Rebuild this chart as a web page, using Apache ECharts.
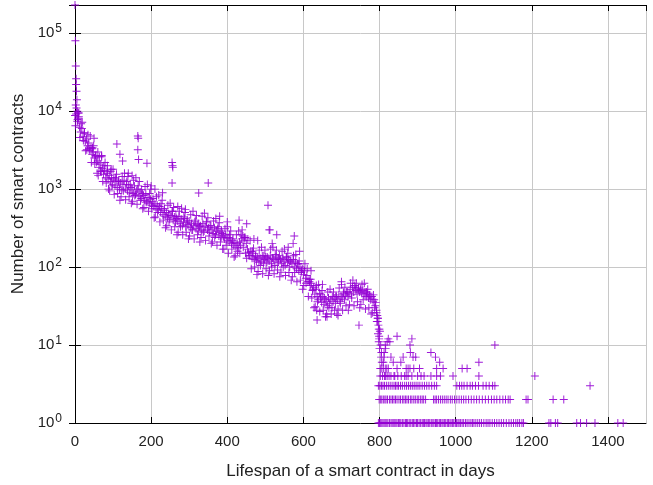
<!DOCTYPE html>
<html>
<head>
<meta charset="utf-8">
<title>Smart contract lifespan</title>
<script src="https://cdn.jsdelivr.net/npm/echarts@6/dist/echarts.min.js"></script>
<style>
  html, body { margin: 0; padding: 0; background: #fff; }
  #chart { width: 653px; height: 485px; }
</style>
</head>
<body>
<div id="chart"></div>
<script>
// main band, one value every 3 days from day 0 to day 798
var bandStep = 3
var bandCounts = [
  8800, 9200, 7400, 8100, 6200, 5400, 6000, 4700, 5200, 4100,
  4400, 3600, 3900, 3100, 3400, 2800, 3000, 2500, 2700, 2200,
  2300, 1900, 2100, 1700, 1850, 1550, 1750, 1400, 1600, 1350,
  1500, 1250, 1400, 1150, 1350, 1100, 1300, 1050, 1250, 1000,
  1200, 980, 1150, 1300, 1000, 1150, 950, 1100, 900, 1050,
  1000, 880, 1100, 850, 950, 1000, 800, 920, 760, 880,
  830, 720, 860, 700, 780, 650, 740, 620, 690, 600,
  650, 560, 620, 540, 600, 500, 560, 470, 530, 450,
  500, 430, 480, 410, 460, 520, 400, 440, 380, 420,
  390, 450, 360, 410, 340, 380, 420, 330, 370, 350,
  390, 320, 360, 300, 340, 380, 310, 350, 290, 330,
  340, 300, 360, 290, 330, 380, 300, 320, 280, 340,
  300, 270, 320, 260, 290, 310, 250, 280, 240, 270,
  250, 230, 260, 220, 240, 210, 230, 200, 220, 190,
  205, 180, 200, 175, 210, 190, 230, 250, 220, 240,
  200, 170, 155, 140, 160, 130, 150, 125, 140, 120,
  135, 115, 130, 120, 140, 110, 125, 135, 115, 130,
  120, 140, 110, 130, 125, 105, 135, 120, 115, 140,
  125, 110, 130, 120, 105, 135, 115, 125, 100, 120,
  110, 125, 100, 115, 95, 110, 90, 100, 85, 95,
  80, 90, 72, 78, 65, 70, 58, 62, 50, 55,
  45, 52, 42, 38, 46, 40, 35, 42, 33, 38,
  36, 32, 40, 34, 38, 30, 36, 40, 34, 42,
  38, 44, 36, 42, 40, 46, 38, 44, 48, 42,
  46, 52, 44, 55, 48, 58, 50, 45, 54, 48,
  52, 46, 50, 44, 48, 42, 46, 40, 44, 38,
  42, 36, 38, 32, 28, 22, 16
]
// second pass over the band, days 1, 4, 7 ... 799 (wider spread)
var bandCountsB = [
  6500, 11000, 7800, 9500, 4600, 6900, 7200, 4200, 5300, 3100,
  3200, 5000, 3300, 4800, 2200, 3400, 3600, 2100, 2600, 1600,
  1500, 2600, 1700, 2700, 1250, 2000, 2200, 1200, 1700, 1000,
  950, 1700, 1100, 1800, 850, 1400, 1550, 880, 1250, 720,
  800, 1450, 950, 1600, 730, 1250, 1450, 800, 1150, 660,
  700, 1300, 830, 1400, 640, 1100, 1250, 720, 980, 560,
  580, 1080, 680, 1150, 520, 880, 1000, 560, 760, 430,
  440, 800, 500, 840, 380, 650, 720, 400, 560, 320,
  340, 620, 380, 660, 300, 520, 580, 330, 450, 260,
  280, 520, 330, 570, 260, 440, 500, 280, 400, 230,
  250, 470, 300, 520, 230, 400, 460, 260, 360, 210,
  240, 450, 280, 490, 220, 380, 430, 250, 340, 200,
  210, 390, 240, 420, 190, 330, 370, 210, 290, 170,
  170, 310, 190, 330, 150, 260, 290, 170, 230, 135,
  140, 260, 160, 290, 150, 260, 300, 180, 240, 150,
  130, 230, 140, 220, 95, 160, 175, 100, 135, 80,
  88, 165, 105, 180, 82, 140, 165, 95, 135, 78,
  90, 170, 100, 180, 82, 145, 165, 92, 130, 75,
  86, 160, 100, 170, 78, 135, 150, 85, 120, 68,
  75, 140, 85, 145, 65, 110, 120, 68, 90, 52,
  58, 110, 62, 95, 42, 65, 70, 40, 52, 30,
  31, 58, 36, 60, 27, 45, 50, 28, 40, 23,
  25, 48, 30, 52, 25, 42, 48, 28, 42, 25,
  29, 54, 34, 60, 28, 48, 55, 32, 48, 28,
  33, 62, 40, 68, 32, 55, 62, 36, 52, 30,
  33, 60, 38, 62, 29, 48, 52, 30, 42, 25,
  26, 44, 30, 35, 20, 14, 12
]

// scattered points off the band
var extraDays = [
  0, 1, 2, 3, 3, 4, 5, 2, 6, 8, 10,
  50, 45, 60, 70, 85, 95, 110, 118, 125, 140, 150, 165, 166, 165, 167, 189,
  200, 210, 230, 255, 256, 257, 255, 270, 290, 325, 350, 380, 400,
  431, 451, 470, 480, 507, 510, 512, 530, 518, 560, 573, 576, 590,
  620, 635, 636, 650, 662, 691, 700, 746,
  792, 794, 795, 796, 797, 800, 801, 799, 798, 800, 803, 805, 804, 806, 810,
  812, 816, 820, 823, 827, 812, 815, 830, 836, 846, 856, 862, 880, 881, 885,
  888, 895, 935, 947, 958, 1061, 1103
]
var extraCounts = [
  230000, 80000, 38000, 26000, 22000, 18000, 14000, 12000, 10000, 9500, 8500,
  4500, 3300, 3000, 2600, 2000, 1800, 3800, 2800, 2300, 1600, 1500, 4800, 4500, 3200, 2400, 2150,
  1100, 1000, 900, 2200, 2000, 1900, 1200, 600, 550, 890, 1200, 450, 380,
  400, 360, 230, 220, 620, 300, 300, 260, 200, 180, 200, 250, 160,
  90, 28, 21, 60, 23, 24, 65, 18,
  26, 24, 20, 22, 18, 16, 15, 13, 11, 9, 10, 8, 7, 6, 6,
  7, 9, 11, 12, 11, 8, 10, 7, 6, 13, 6, 7, 10, 8, 12,
  7, 7, 8, 7, 6, 6, 10
]

// tail after day 800: days with exactly 1..5 contracts
var tail1Days = [
  797, 800, 803, 806, 809, 812, 815, 819, 822, 826, 830, 833, 836, 840, 843, 846,
  850, 853, 856, 860, 864, 868, 871, 874, 878, 882, 886, 889, 893, 897, 900, 904,
  908, 912, 915, 918, 922, 925, 929, 932, 936, 940, 943, 947, 950, 953, 957, 960,
  964, 967, 971, 974, 978, 981, 985, 988, 992, 995, 999, 1002, 1006, 1009, 1013,
  1017, 1021, 1026, 1030, 1035, 1040, 1044, 1048, 1053, 1058, 1063, 1068, 1074,
  1080, 1085, 1090, 1096, 1102, 1108, 1114, 1120, 1126, 1133, 1140, 1146, 1152,
  1158, 1163, 1168, 1174, 1178, 1245, 1250, 1262, 1268, 1318, 1328, 1344, 1366,
  1426, 1440
]
var tail2Days = [
  799, 803, 806, 810, 814, 817, 821, 826, 830, 834, 838, 842, 846, 851, 855, 860,
  864, 868, 872, 876, 881, 885, 890, 894, 899, 903, 908, 912, 916, 921, 942, 946,
  950, 955, 960, 965, 970, 975, 980, 986, 991, 997, 1003, 1009, 1015, 1021, 1027,
  1034, 1041, 1048, 1055, 1062, 1070, 1078, 1086, 1094, 1101, 1108, 1116, 1124,
  1131, 1138, 1143, 1185, 1190, 1256, 1284
]
var tail3Days = [
  797, 801, 805, 809, 813, 818, 823, 828, 833, 838, 842, 846, 850, 855, 860, 866,
  871, 876, 881, 886, 891, 896, 901, 906, 912, 918, 924, 930, 937, 944, 950, 1003,
  1010, 1016, 1022, 1030, 1038, 1044, 1052, 1060, 1072, 1080, 1088, 1097, 1103, 1353
]
var tail4Days = [
  802, 808, 813, 816, 820, 825, 830, 838, 840, 848, 857, 866, 870, 875, 885, 900,
  909, 917, 935, 950, 960, 993, 1061, 1208
]
var tail5Days = [
  802, 806, 810, 815, 819, 823, 846, 870, 875, 880, 890, 905, 950, 967, 1017, 1030
]

var xTicks = [0, 200, 400, 600, 800, 1000, 1200, 1400]

var points = []
bandCounts.forEach(function (c, i) { points.push([i * bandStep, c]) })
bandCountsB.forEach(function (c, i) { points.push([i * bandStep + 1, c]) })
extraDays.forEach(function (d, i) { points.push([d, extraCounts[i]]) })
var tails = [tail1Days, tail2Days, tail3Days, tail4Days, tail5Days]
tails.forEach(function (days, k) {
  days.forEach(function (d) { points.push([d, k + 1]) })
})

var purple = '#9400d3'
var cross = 'path://M0,4.4L10,4.4L10,5.6L0,5.6Z M4.4,0L5.6,0L5.6,10L4.4,10Z'

var chart = echarts.init(document.getElementById('chart'), null, { renderer: 'canvas' })

var gridLine = { show: true, lineStyle: { color: '#c8c8c8', width: 1 } }
var blackLine = { show: true, lineStyle: { color: '#000', width: 1 } }
var innerTick = { show: true, inside: true, length: 6, lineStyle: { color: '#000' } }

chart.setOption({
  animation: false,
  backgroundColor: '#fff',
  grid: { left: 75, right: 7, top: 5, bottom: 62, containLabel: false },
  xAxis: [{
    type: 'value',
    min: 0,
    max: 1500,
    interval: 200,
    name: 'Lifespan of a smart contract in days',
    nameLocation: 'middle',
    nameGap: 40,
    nameTextStyle: { fontFamily: 'Liberation Sans', fontSize: 17, color: '#222' },
    axisLine: blackLine,
    axisTick: innerTick,
    axisLabel: {
      fontFamily: 'Liberation Sans', fontSize: 15, color: '#222', margin: 11,
      showMaxLabel: false,
      formatter: function (v) { return xTicks.indexOf(v) >= 0 ? String(v) : '' }
    },
    splitLine: gridLine
  }, {
    type: 'value',
    position: 'top',
    min: 0,
    max: 1500,
    interval: 200,
    axisLine: blackLine,
    axisTick: innerTick,
    axisLabel: { show: false },
    splitLine: { show: false }
  }],
  yAxis: [{
    type: 'log',
    logBase: 10,
    min: 1,
    max: 230000,
    name: 'Number of smart contracts',
    nameLocation: 'middle',
    nameGap: 40,
    nameTextStyle: {
      fontFamily: 'Liberation Sans', fontSize: 17, color: '#222',
      padding: [0, 0, 0, 40]
    },
    axisLine: blackLine,
    axisTick: innerTick,
    axisLabel: {
      margin: 13,
      showMaxLabel: false,
      formatter: function (v) {
        var e = Math.round(Math.log10(v))
        return '{b|10}{e|' + e + '}'
      },
      rich: {
        b: { fontFamily: 'Liberation Sans', fontSize: 15, color: '#222' },
        e: { fontFamily: 'Liberation Sans', fontSize: 12, color: '#222', padding: [0, 0, 9, 1] }
      }
    },
    splitLine: gridLine
  }, {
    type: 'log',
    logBase: 10,
    min: 1,
    max: 230000,
    position: 'right',
    axisLine: blackLine,
    axisTick: innerTick,
    axisLabel: { show: false },
    splitLine: { show: false }
  }],
  series: [{
    type: 'scatter',
    xAxisIndex: 0,
    yAxisIndex: 0,
    symbol: cross,
    symbolSize: 8,
    itemStyle: { color: purple, opacity: 0.9 },
    data: points
  }]
})
</script>
</body>
</html>
